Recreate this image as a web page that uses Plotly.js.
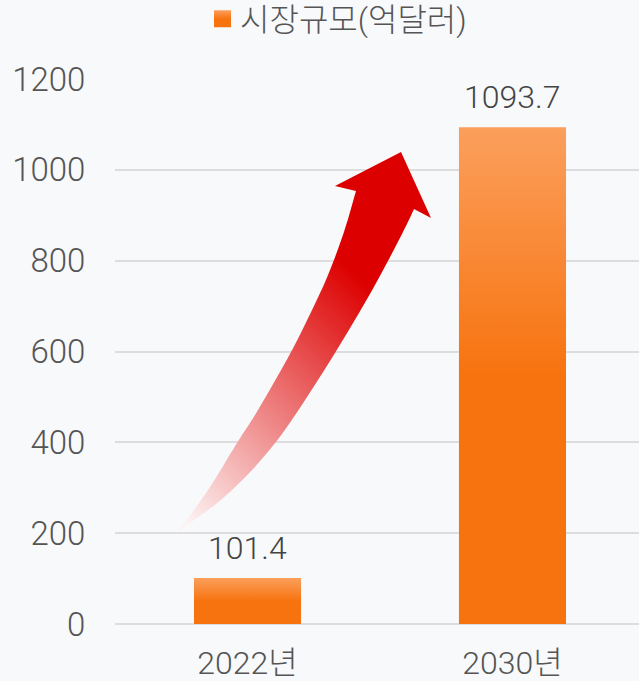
<!DOCTYPE html>
<html><head><meta charset="utf-8">
<script src="https://cdn.plot.ly/plotly-3.0.1.min.js"></script>
<style>html,body{margin:0;padding:0;background:#f8f9fb;}</style>
</head><body><div id="chart" style="width:639px;height:681px;"></div>
<script>
// ---- data ----
const categories = ['2022년', '2030년'];
const marketSize = [101.4, 1093.7];
const valueLabels = ['101.4', '1093.7'];
const seriesName = '시장규모(억달러)';
const yTickValues = [0, 200, 400, 600, 800, 1000, 1200];

// ---- decorative arrow outline (pixel positions on the 639x681 canvas) ----
const arrowLeftEdge = [[177,533],[208,490],[237,443],[258,410],[291,352],[312,310],[328,275],[344,232],[356,191]];
const arrowHead = [[335,186],[401,152],[431,218]];
const arrowRightEdge = [[414,209],[403,232],[381,274],[359,313],[335,353],[309,394],[282,434],[253,469],[222,499],[193,521],[180,531]];

const M = {l:115, r:0, t:79, b:57, autoexpand: false};
const W = 639, H = 681;
const pw = W - M.l - M.r, ph = H - M.t - M.b;
const toPaper = p => [(p[0]-M.l)/pw, (H - M.b - p[1])/ph];
const fmt = p => toPaper(p).map(v => v.toFixed(4)).join(',');
function smooth(pts) {
  let s = '';
  for (let i = 0; i < pts.length - 1; i++) {
    const p0 = pts[Math.max(i-1,0)], p1 = pts[i], p2 = pts[i+1], p3 = pts[Math.min(i+2, pts.length-1)];
    const c1 = [p1[0] + (p2[0]-p0[0])/6, p1[1] + (p2[1]-p0[1])/6];
    const c2 = [p2[0] - (p3[0]-p1[0])/6, p2[1] - (p3[1]-p1[1])/6];
    s += 'C' + fmt(c1) + ' ' + fmt(c2) + ' ' + fmt(p2);
  }
  return s;
}
const arrowPath = 'M' + fmt(arrowLeftEdge[0]) + smooth(arrowLeftEdge) +
  arrowHead.map(p => 'L' + fmt(p)).join('') +
  'L' + fmt(arrowRightEdge[0]) + smooth(arrowRightEdge) + 'Z';

const FONT = 'Roboto, "Noto Sans CJK KR", sans-serif';

const trace = {
  type: 'bar',
  x: categories,
  y: marketSize,
  name: seriesName,
  width: 0.404,
  marker: {color: '#f7730f', line: {width: 0}},
  hoverinfo: 'none',
  showlegend: true
};

const layout = {
  width: W, height: H,
  margin: M,
  paper_bgcolor: '#f8f9fb',
  plot_bgcolor: '#f8f9fb',
  font: {family: FONT, color: '#555555', size: 30, weight: 300},
  showlegend: true,
  legend: {
    orientation: 'h', x: (200 - M.l)/pw, xanchor: 'left', y: 1.11, yanchor: 'middle',
    font: {family: FONT, size: 32, color: '#555555'},
    bgcolor: 'rgba(0,0,0,0)'
  },
  xaxis: {
    type: 'category',
    range: [-0.5, 1.4774],
    showgrid: false, zeroline: false, showline: false,
    ticks: 'outside', ticklen: 11, tickcolor: 'rgba(0,0,0,0)',
    tickfont: {family: FONT, size: 32, color: '#555555', weight: 300},
    fixedrange: true
  },
  yaxis: {
    range: [0, 1200],
    tickvals: yTickValues,
    ticktext: yTickValues.map(String),
    showgrid: true, gridcolor: '#dddddd', gridwidth: 2,
    zeroline: true, zerolinecolor: '#dddddd', zerolinewidth: 2,
    showline: false,
    ticks: 'outside', ticklen: 22, tickcolor: 'rgba(0,0,0,0)',
    tickfont: {family: FONT, size: 33, color: '#555555', weight: 300},
    fixedrange: true
  },
  annotations: categories.map((c, i) => ({
    x: c, y: marketSize[i], xref: 'x', yref: 'y',
    text: valueLabels[i], showarrow: false,
    yanchor: 'bottom', yshift: 9,
    font: {family: FONT, size: 32, color: '#444444', weight: 300}
  })),
  shapes: [{
    type: 'path', xref: 'paper', yref: 'paper', layer: 'above',
    path: arrowPath, fillcolor: '#dd0000', line: {width: 0}
  }]
};

Plotly.newPlot('chart', [trace], layout, {staticPlot: true, displayModeBar: false}).then(gd => {
  const NS = 'http://www.w3.org/2000/svg';
  const svg = gd.querySelector('.main-svg');
  let defs = svg.querySelector('defs');
  if (!defs) { defs = document.createElementNS(NS, 'defs'); svg.insertBefore(defs, svg.firstChild); }
  function grad(id, x1, y1, x2, y2, stops) {
    const g = document.createElementNS(NS, 'linearGradient');
    g.setAttribute('id', id);
    g.setAttribute('x1', x1); g.setAttribute('y1', y1);
    g.setAttribute('x2', x2); g.setAttribute('y2', y2);
    stops.forEach(s => {
      const st = document.createElementNS(NS, 'stop');
      st.setAttribute('offset', s[0]); st.setAttribute('stop-color', s[1]);
      g.appendChild(st);
    });
    defs.appendChild(g);
  }
  grad('barGrad', 0, 0, 0, 1, [[0, '#fb9f5c'], [0.5, '#f7730f'], [1, '#f7730f']]);
  grad('arrowGrad', 0.05, 0.98, 0.55, 0.22, [[0, '#fdf3f3'], [1, '#dd0000']]);
  gd.querySelectorAll('.barlayer .point path').forEach(p => { p.style.fill = 'url(#barGrad)'; });
  gd.querySelectorAll('.shapelayer path').forEach(p => { p.style.fill = 'url(#arrowGrad)'; });
  gd.querySelectorAll('.legend .legendpoints path').forEach(p => {
    p.setAttribute('d', 'M11,8.5H-6V-8.5H11Z');
    p.style.fill = 'url(#barGrad)';
  });
});
</script>
</body></html>
